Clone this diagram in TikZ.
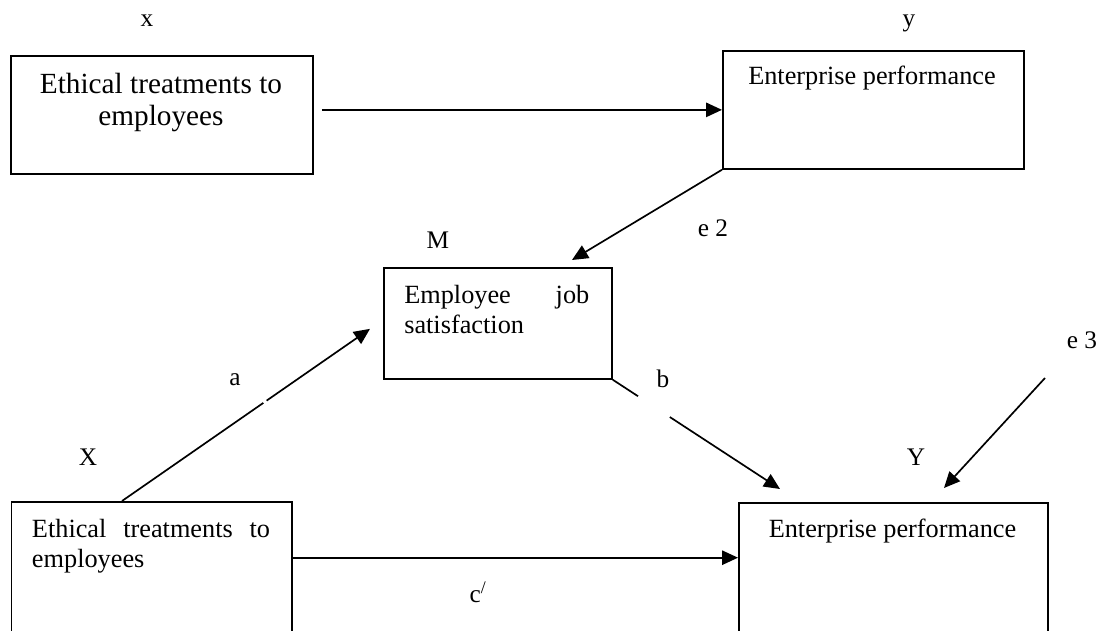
\documentclass[tikz,border=0pt]{standalone}
\usepackage{fontspec}
\setmainfont{Liberation Serif}
\usetikzlibrary{arrows.meta,calc}

\begin{document}
\begin{tikzpicture}[x=0.025cm,y=-0.025cm,
		box/.style={draw,line width=1.2pt,inner sep=0pt,anchor=north west},
		txt/.style={inner sep=0pt,font=\fontsize{18.7}{21.3}\selectfont},
		lbl/.style={inner sep=0pt,anchor=base,font=\fontsize{18}{20}\selectfont},
		arr/.style={line width=1.2pt,-{Triangle[length=0.4cm,width=0.36cm]}}]
		\path[use as bounding box,clip] (0,0) rectangle (1101,631);
		
		% boxes
		\node[box,minimum width=7.55cm,minimum height=2.95cm] (tlbox) at (10,55) {};
		\node[box,minimum width=7.525cm,minimum height=2.95cm] (trbox) at (722,50) {};
		\node[box,minimum width=5.7cm,minimum height=2.775cm] (mbox) at (383,267) {};
		\node[box,minimum width=7.0125cm,minimum height=3.5cm] (xbox) at (10.5,501) {};
		\node[box,minimum width=7.725cm,minimum height=3.5cm] (ybox) at (738,502) {};
		
		\node[txt,anchor=north,align=center,font=\fontsize{20.8}{22.8}\selectfont] (tltext) at (161,73) {Ethical treatments to\\employees};
		\node[txt,anchor=base] (trtext) at (872,85) {Enterprise performance};
		\node[txt,anchor=north west,text width=4.625cm,align=left] (mtext) at (404,285) {Employee\hfill job\\satisfaction};
		\node[txt,anchor=north west,text width=5.95cm,align=left] (xtext) at (31.7,518.7) {Ethical\hfill treatments\hfill to\\employees};
		\node[txt,anchor=base] (ytext) at (892.5,537) {Enterprise performance};
		
		% labels
		\node[lbl] (lx) at (147,27) {x};
		\node[lbl] (ly) at (909,27) {y};
		\node[lbl] (lM) at (438,248) {M};
		\node[lbl] (le2) at (713,236) {e 2};
		\node[lbl] (la) at (235,385) {a};
		\node[lbl] (lb) at (663,387) {b};
		\node[lbl] (lX) at (88,465) {X};
		\node[lbl] (lY) at (916,465) {Y};
		\node[lbl] (lc) at (478,602) {c\textsuperscript{/}};
		\node[lbl] (le3) at (1082,348) {e 3};
		
		% paths
		\draw[arr] ($(tlbox.east |- trbox.west)+(8,0)$) -- (trbox.west);
		\draw[arr] (trbox.south west) -- ($(mbox.north west)+(189,-7)$);
		\draw[arr,dash pattern=on 4.3cm off 0.1cm on 20cm] ($(xbox.north west)+(111.5,0)$) -- ($(mbox.west)+(-13,5.5)$);
		\draw[arr,dash pattern=on 0.755cm off 0.95cm on 20cm] (mbox.south east) -- ($(ybox.north west)+(42,-13)$);
		\draw[arr] ($(xbox.north east)+(0,56.7)$) -- ($(ybox.north west)+(0,55.7)$);
		\coordinate (e3start) at (1045,378);
		\draw[arr] (e3start) -- ($(ybox.north west)+(206,-14)$);
		\end{tikzpicture}
\end{document}
